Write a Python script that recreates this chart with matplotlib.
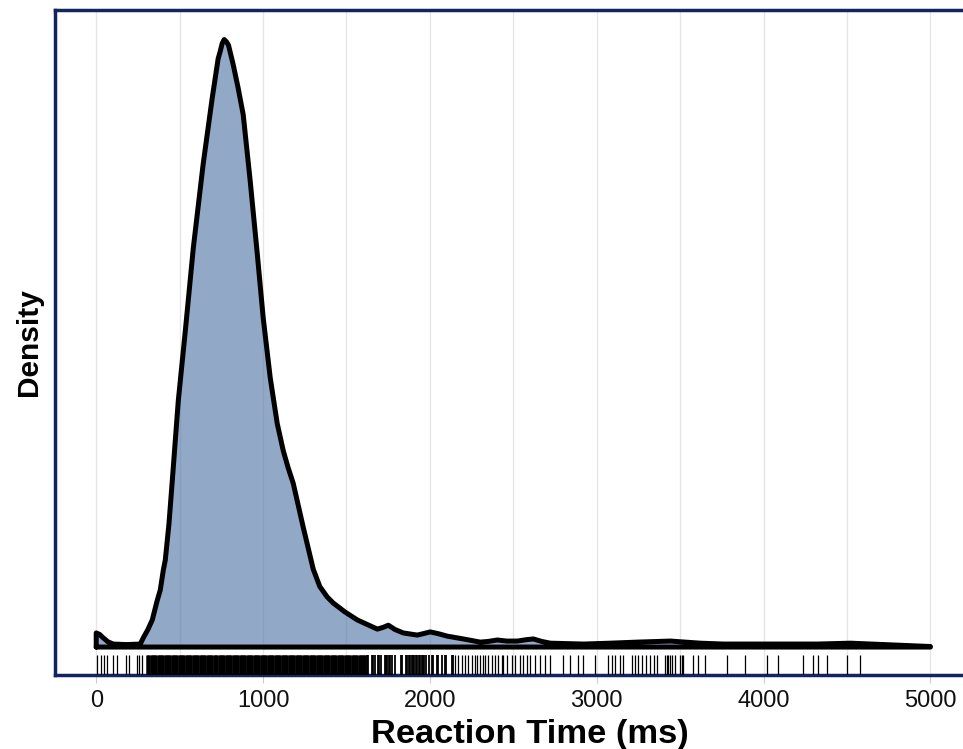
import matplotlib
matplotlib.use('Agg')
import matplotlib.pyplot as plt
import numpy as np

plt.rcParams['font.family'] = ['Liberation Sans', 'DejaVu Sans']

# density curve (ms, density x 1e-4)
rt_x = [0, 20, 40, 70, 102, 180, 264, 282, 310, 336, 366, 384, 402, 414, 436, 456,
        492, 534, 582, 641, 695, 731, 743, 755, 767, 780, 793, 821, 850, 881, 923,
        965, 1001, 1043, 1085, 1121, 1150, 1181, 1241, 1301, 1340, 1385, 1421, 1490,
        1565, 1685, 1720, 1751, 1790, 1841, 1924, 1960, 2002, 2050, 2104, 2200, 2302,
        2350, 2404, 2460, 2524, 2580, 2620, 2670, 2722, 2920, 3082, 3243, 3441, 3621,
        3759, 4323, 4520, 5000]
dens = [0.40, 0.36, 0.27, 0.15, 0.085, 0.07, 0.085, 0.26, 0.50, 0.77, 1.33, 1.62,
        2.18, 2.47, 3.50, 4.73, 7.00, 8.98, 11.34, 13.72, 15.59, 16.72, 16.92, 17.15,
        17.26, 17.20, 17.10, 16.55, 15.90, 15.13, 13.24, 11.19, 9.35, 7.65, 6.35,
        5.58, 5.10, 4.65, 3.40, 2.21, 1.72, 1.42, 1.25, 1.00, 0.77, 0.51, 0.56, 0.62,
        0.50, 0.40, 0.34, 0.38, 0.43, 0.38, 0.31, 0.23, 0.14, 0.16, 0.20, 0.17, 0.17,
        0.21, 0.23, 0.16, 0.11, 0.085, 0.11, 0.14, 0.17, 0.11, 0.085, 0.085, 0.11,
        0.015]
dens = [d * 1e-4 for d in dens]

# rug (individual reaction times)
rug_low = [6, 30, 48, 66, 102, 126, 180, 198, 246, 258, 276]
rug_dense = [306, 313, 319, 327, 334, 340, 348, 355, 361, 369, 376, 382, 390, 397, 403,
             411, 418, 424, 432, 439, 445, 453, 460, 466, 474, 481, 487, 495, 502, 508,
             516, 523, 529, 537, 544, 550, 558, 565, 571, 579, 586, 592, 600, 607, 613,
             621, 628, 634, 642, 649, 655, 663, 670, 676, 684, 691, 697, 705, 712, 718,
             726, 733, 739, 747, 754, 760, 768, 775, 781, 789, 796, 802, 810, 817, 823,
             831, 838, 844, 852, 859, 865, 873, 880, 886, 894, 901, 907, 915, 922, 928,
             936, 943, 949, 957, 964, 970, 978, 985, 991, 999, 1006, 1012, 1020, 1027,
             1033, 1041, 1048, 1054, 1062, 1069, 1075, 1083, 1090, 1096, 1104, 1111,
             1117, 1125, 1132, 1138, 1146, 1153, 1159, 1167, 1174, 1180, 1188, 1195,
             1201, 1209, 1216, 1222, 1230, 1237, 1243, 1251, 1258, 1264, 1272, 1279,
             1285, 1293, 1300, 1306, 1314, 1321, 1327, 1335, 1342, 1348, 1356, 1363,
             1369, 1377, 1384, 1390, 1398, 1405, 1411, 1419, 1426, 1432, 1440, 1447,
             1453, 1461, 1468, 1474, 1482, 1489, 1495, 1503, 1510, 1516, 1524, 1531,
             1537, 1545, 1552, 1558, 1566, 1573, 1579, 1587, 1594, 1600, 1608, 1613]
rug_mid = [1621, 1630, 1652, 1660, 1669, 1688, 1697, 1706, 1728, 1736, 1745, 1753,
           1762, 1770, 1790, 1825, 1834, 1856, 1864, 1873, 1881, 1890, 1898, 1907,
           1915, 1924, 1932, 1941, 1950, 1958, 1967, 1975, 1993, 2012, 2021, 2042,
           2051, 2070, 2088, 2097, 2135, 2139]
rug_high = [2151, 2169, 2193, 2211, 2229, 2253, 2271, 2283, 2301, 2319, 2331, 2349,
            2373, 2391, 2409, 2433, 2439, 2463, 2493, 2511, 2540, 2558, 2582, 2600,
            2630, 2660, 2690, 2720, 2798, 2840, 2888, 2918, 2990, 3068, 3092, 3110,
            3140, 3158, 3212, 3230, 3248, 3272, 3296, 3319, 3343, 3364, 3409, 3421,
            3427, 3439, 3451, 3469, 3499, 3511, 3517, 3577, 3607, 3649, 3781, 3889,
            4021, 4086, 4236, 4296, 4326, 4380, 4500, 4578]

xticks = [0, 1000, 2000, 3000, 4000, 5000]

fig = plt.figure(figsize=(9.63, 7.49), dpi=100)
ax = fig.add_axes([54.5 / 963, (749 - 674.5) / 749, 951 / 963, 664.5 / 749])

ax.set_xlim(-250, 5450)
ax.set_ylim(-0.78e-4, 18.1e-4)

ax.set_xticks(xticks)
ax.set_xticks(np.arange(500, 5001, 1000), minor=True)
ax.grid(True, which='both', axis='x', color='#E6E6E6', lw=1.0, zorder=0)
ax.set_axisbelow(True)
ax.set_yticks([])
ax.tick_params(axis='x', which='major', length=6, width=0.8, color='#CCCCCC',
               labelsize=17, labelcolor='#111111', pad=5.5)
ax.tick_params(axis='x', which='minor', length=0)

ax.fill_between(rt_x, 0, dens, color='#486EA0', alpha=0.6, lw=0, zorder=2)
ox = [0] + rt_x + [5000, 0]
oy = [0] + dens + [0, 0]
ax.plot(ox, oy, color='black', lw=3.6, solid_joinstyle='round',
        solid_capstyle='round', zorder=3)

tr = ax.get_xaxis_transform()
ax.vlines(rug_low + rug_high, 0, 0.03, transform=tr, color='black', lw=0.9, zorder=3)
ax.vlines(rug_dense, 0, 0.03, transform=tr, color='black', lw=1.8, zorder=3)
ax.vlines(rug_mid, 0, 0.03, transform=tr, color='black', lw=1.3, zorder=3)

for s in ax.spines.values():
    s.set_color('#14245E')
    s.set_linewidth(2.5)
ax.spines['right'].set_visible(False)

ax.set_xlabel('Reaction Time (ms)', fontsize=24.8, fontweight='bold', labelpad=4.5)
ax.set_ylabel('Density', fontsize=21.5, fontweight='bold', labelpad=8)

fig.savefig('out.png', dpi=100)
